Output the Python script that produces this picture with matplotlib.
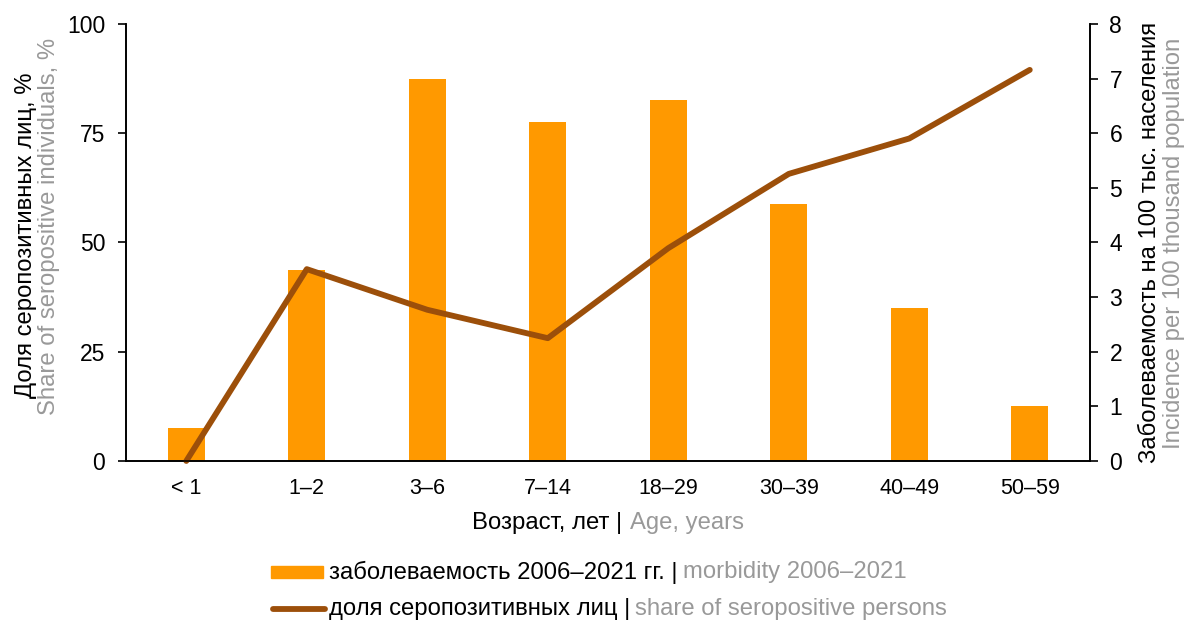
import matplotlib
matplotlib.use("Agg")
import matplotlib.pyplot as plt
from matplotlib.lines import Line2D
from matplotlib.patches import Rectangle
from matplotlib.offsetbox import (AnchoredOffsetbox, DrawingArea, HPacker,
                                  TextArea, VPacker)

plt.rcParams['font.family'] = ['Liberation Sans', 'DejaVu Sans']

ages = ['< 1', '1–2', '3–6', '7–14', '18–29', '30–39', '40–49', '50–59']
incidence = [0.61, 3.5, 7.0, 6.2, 6.6, 4.7, 2.8, 1.0]        # per 100k, right axis
seropositive = [0, 43.9, 34.6, 28.1, 48.7, 65.7, 73.8, 89.5]  # %, left axis

BAR = '#FF9900'
LINE = '#9C4F0A'
GRAY = '#999999'
W, H = 1187, 620
LBL = 17.2

fig = plt.figure(figsize=(W / 100, H / 100), dpi=100)
ax = fig.add_axes([0.1062, 0.2565, 0.8121, 0.7048])
ax2 = ax.twinx()

x = list(range(len(ages)))
ax2.bar(x, incidence, width=0.31, color=BAR)
ax.plot(x, seropositive, color=LINE, lw=4.2, solid_capstyle='round', clip_on=False)

ax.set_zorder(ax2.get_zorder() + 1)
ax.patch.set_visible(False)

ax.set_xlim(-0.5, 7.5)
ax.set_ylim(0, 100)
ax2.set_ylim(0, 8)
ax.set_yticks([0, 25, 50, 75, 100])
ax2.set_yticks(range(9))
ax.set_xticks(x)
ax.set_xticklabels(ages)

for a in (ax, ax2):
    a.spines['top'].set_visible(False)
    for s in a.spines.values():
        s.set_linewidth(1.2)
ax.tick_params(axis='y', labelsize=16.5, length=6, width=1.2, pad=9)
ax2.tick_params(axis='y', labelsize=16.5, length=6, width=1.2, pad=8)
ax.tick_params(axis='x', labelsize=15.5, length=0, pad=12)

# rotated two-line axis titles
fig.text(26 / W, 1 - 235 / H, 'Доля серопозитивных лиц, %',
         rotation=90, ha='center', va='center', fontsize=LBL, color='black')
fig.text(49 / W, 1 - 226 / H, 'Share of seropositive individuals, %',
         rotation=90, ha='center', va='center', fontsize=LBL, color=GRAY)
fig.text(1150 / W, 1 - 242 / H, 'Заболеваемость на 100 тыс. населения',
         rotation=90, ha='center', va='center', fontsize=LBL, color='black')
fig.text(1174 / W, 1 - 243 / H, 'Incidence per 100 thousand population',
         rotation=90, ha='center', va='center', fontsize=LBL, color=GRAY)


def two_tone(ru, en, size=LBL):
    return [TextArea(ru, textprops=dict(color='black', fontsize=size)),
            TextArea(en, textprops=dict(color=GRAY, fontsize=size))]


xlab = HPacker(children=two_tone('Возраст, лет |', 'Age, years'), pad=0, sep=5)
fig.add_artist(AnchoredOffsetbox(loc='center', child=xlab, frameon=False, pad=0,
                                 borderpad=0, bbox_to_anchor=(608 / W, 1 - 523 / H),
                                 bbox_transform=fig.transFigure))

# legend rows (DrawingArea sizes are in points)
da1 = DrawingArea(37.5, 12)
da1.add_artist(Rectangle((0, 1.7), 37.5, 8.6, color=BAR))
da2 = DrawingArea(37.5, 12)
da2.add_artist(Line2D([1.5, 39], [6, 6], color=LINE, lw=4.2, solid_capstyle='round'))

row1 = HPacker(children=[da1] + two_tone('заболеваемость 2006–2021 гг. |', 'morbidity 2006–2021'),
               pad=0, sep=4, align='center')
row2 = HPacker(children=[da2] + two_tone('доля серопозитивных лиц |', 'share of seropositive persons'),
               pad=0, sep=4, align='center')
leg = VPacker(children=[row1, row2], pad=0, sep=10, align='left')
fig.add_artist(AnchoredOffsetbox(loc='center left', child=leg, frameon=False, pad=0,
                                 borderpad=0, bbox_to_anchor=(271 / W, 1 - 590 / H),
                                 bbox_transform=fig.transFigure))

fig.savefig('out.png', dpi=100)
